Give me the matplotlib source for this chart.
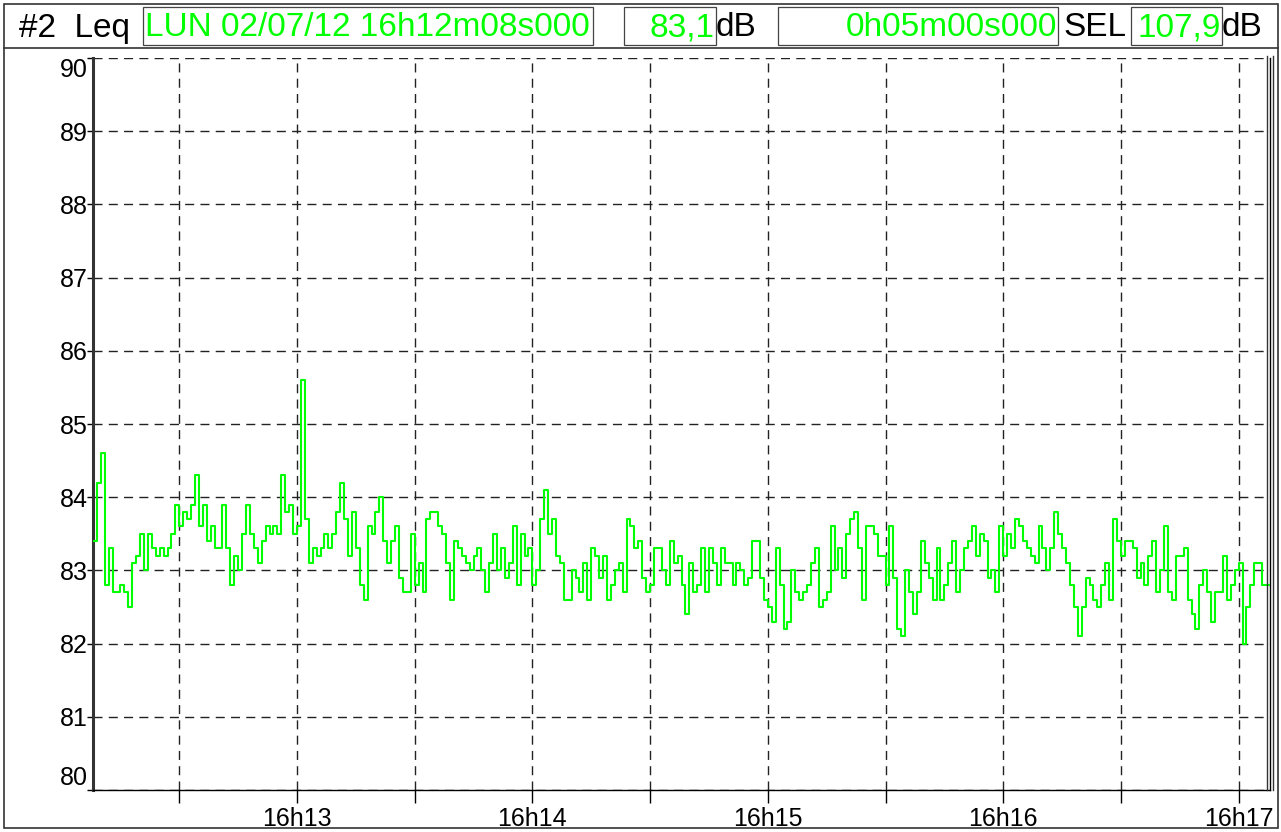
import matplotlib
matplotlib.use("Agg")
import matplotlib.pyplot as plt
from matplotlib.patches import Rectangle
from matplotlib.lines import Line2D

# ---------------- data ----------------
start_label = "LUN 02/07/12 16h12m08s000"
leq_value = "83,1"
duration_label = "0h05m00s000"
sel_value = "107,9"
start_seconds = 12 * 60 + 8          # seconds after 16h00
duration = 300                       # seconds

leq = [
    83.4, 84.2, 84.6, 82.8, 83.3, 82.7, 82.7, 82.8, 82.7, 82.5, 83.1, 83.2, 83.5, 83.0, 83.5,
    83.3, 83.2, 83.3, 83.2, 83.3, 83.5, 83.9, 83.6, 83.8, 83.7, 83.9, 84.3, 83.6, 83.9, 83.4,
    83.6, 83.3, 83.3, 83.9, 83.3, 82.8, 83.2, 83.0, 83.5, 83.9, 83.5, 83.3, 83.1, 83.4, 83.6,
    83.5, 83.6, 83.5, 84.3, 83.8, 83.9, 83.5, 83.6, 85.6, 83.7, 83.1, 83.3, 83.2, 83.3, 83.5,
    83.3, 83.5, 83.8, 84.2, 83.7, 83.2, 83.8, 83.3, 82.8, 82.6, 83.6, 83.5, 83.8, 84.0, 83.4,
    83.1, 83.4, 83.6, 82.9, 82.7, 82.7, 83.5, 82.8, 83.1, 82.7, 83.7, 83.8, 83.8, 83.6, 83.5,
    83.1, 82.6, 83.4, 83.3, 83.2, 83.1, 83.0, 83.2, 83.3, 83.0, 82.7, 83.1, 83.5, 83.0, 83.3,
    82.9, 83.1, 83.6, 82.8, 83.5, 83.2, 83.3, 82.8, 83.0, 83.7, 84.1, 83.5, 83.7, 83.2, 83.1,
    82.6, 82.6, 83.0, 82.9, 82.7, 83.1, 82.6, 83.3, 83.2, 82.9, 83.2, 82.6, 82.8, 83.0, 83.1,
    82.7, 83.7, 83.6, 83.3, 83.4, 82.9, 82.7, 82.8, 83.3, 83.3, 83.0, 82.8, 83.4, 83.1, 83.2,
    82.8, 82.4, 83.1, 82.7, 82.8, 83.3, 82.7, 83.3, 83.1, 82.8, 83.3, 83.1, 83.1, 82.8, 83.1,
    83.0, 82.8, 82.9, 83.4, 83.4, 82.9, 82.6, 82.5, 82.3, 83.3, 82.8, 82.2, 82.3, 83.0, 82.7,
    82.6, 82.7, 82.8, 83.1, 83.3, 82.5, 82.6, 82.7, 83.6, 83.0, 83.3, 82.9, 83.5, 83.7, 83.8,
    83.3, 82.6, 83.6, 83.6, 83.5, 83.2, 83.2, 82.8, 83.6, 82.9, 82.2, 82.1, 83.0, 82.7, 82.4,
    82.7, 83.4, 83.1, 82.9, 82.6, 83.3, 82.6, 82.8, 83.1, 83.4, 82.7, 83.0, 83.3, 83.4, 83.6,
    83.2, 83.5, 83.4, 82.9, 83.0, 82.7, 83.6, 83.2, 83.5, 83.3, 83.7, 83.6, 83.4, 83.3, 83.2,
    83.1, 83.6, 83.3, 83.0, 83.3, 83.8, 83.5, 83.3, 83.1, 82.8, 82.5, 82.1, 82.5, 82.9, 82.8,
    82.6, 82.5, 82.8, 83.1, 82.6, 83.7, 83.4, 83.2, 83.4, 83.4, 83.3, 82.9, 83.1, 82.8, 83.2,
    83.4, 82.7, 83.0, 83.6, 82.7, 82.6, 83.2, 83.2, 83.3, 82.6, 82.4, 82.2, 82.8, 83.0, 82.7,
    82.3, 82.7, 82.7, 83.2, 82.6, 82.8, 83.0, 83.1, 82.0, 82.5, 82.8, 83.1, 83.1, 82.8, 82.8,
]
y_ticks = [80, 81, 82, 83, 84, 85, 86, 87, 88, 89, 90]
minute_labels = ["16h13", "16h14", "16h15", "16h16", "16h17"]
minute_values = [13, 14, 15, 16, 17]

# ---------------- figure ----------------
W, H = 1281, 832
GREEN = "#00ff00"
plt.rcParams["font.family"] = ["Liberation Sans", "DejaVu Sans"]

fig = plt.figure(figsize=(W / 100, H / 100), dpi=100)
fig.patch.set_facecolor("white")


def fx(x):
    return x / W


def fy(y):
    return 1 - y / H


# plot axes
left, right, top, bottom = 93, 1270, 58, 790
ax = fig.add_axes([fx(left), fy(bottom), fx(right - left), (bottom - top) / H])

t = list(range(len(leq))) + [duration]
vals = leq + [leq[-1]]
ax.plot(t, vals, color=GREEN, lw=1.5, drawstyle="steps-post", zorder=3)

ax.set_xlim(0, duration)
ax.set_ylim(80, 90)

# x ticks every 30 s, labels every minute
half_ticks = [m * 60 + 30 - start_seconds for m in [12, 13, 14, 15, 16]]
major_ticks = [m * 60 - start_seconds for m in minute_values]
all_ticks = sorted(half_ticks + major_ticks)
ax.set_xticks(all_ticks)
ax.set_xticklabels([minute_labels[major_ticks.index(v)] if v in major_ticks else "" for v in all_ticks])
ax.tick_params(axis="x", length=9, width=1, color="black", labelsize=18, pad=3, direction="out")

ax.set_yticks(y_ticks)
ax.set_yticklabels([str(v) for v in y_ticks])
ax.tick_params(axis="y", length=4, width=1, color="black", labelsize=18, pad=0, direction="out")
for lab in ax.get_yticklabels():
    if lab.get_text() == "90":
        lab.set_va("top")
    elif lab.get_text() == "80":
        lab.set_va("bottom")

ax.grid(True, color="#222222", lw=1.0, linestyle=(0, (6.5, 4.5)))
ax.set_axisbelow(True)
ax.spines["top"].set_visible(False)
ax.spines["left"].set_linewidth(2.2)
ax.spines["left"].set_color("#333333")
ax.spines["bottom"].set_linewidth(1.0)
ax.spines["right"].set_linewidth(1.0)

# extra right border lines
for xx in [1267, 1273]:
    fig.add_artist(Line2D([fx(xx), fx(xx)], [fy(top - 2), fy(bottom)], color="#333333", lw=1.0))

# outer frame and header separator
fig.add_artist(Rectangle((fx(4), fy(828)), fx(1274), (828 - 4) / H, fill=False,
                         edgecolor="#333333", lw=1.2))
fig.add_artist(Line2D([fx(4), fx(1278)], [fy(48), fy(48)], color="#333333", lw=1.2))

# header
FS = 24
yc = fy(28)
fig.text(fx(19), yc, "#2  Leq", color="black", fontsize=FS, va="center", ha="left")


def box(x0, x1, text, align="left"):
    fig.add_artist(Rectangle((fx(x0), fy(45)), fx(x1 - x0), (45 - 7) / H, fill=False,
                             edgecolor="#444444", lw=0.9))
    if align == "left":
        fig.text(fx(x0 + 2), yc, text, color=GREEN, fontsize=FS, va="center", ha="left")
    else:
        fig.text(fx(x1 - 1), yc, text, color=GREEN, fontsize=FS, va="center", ha="right")


box(143, 593, start_label, "left")
box(624, 716, leq_value, "right")
fig.text(fx(716), yc, "dB", color="black", fontsize=FS, va="center", ha="left")
box(778, 1058, duration_label, "right")
fig.text(fx(1063), yc, "SEL", color="black", fontsize=FS, va="center", ha="left")
box(1131, 1222, sel_value, "right")
fig.text(fx(1222), yc, "dB", color="black", fontsize=FS, va="center", ha="left")

fig.savefig("out.png", dpi=100)
